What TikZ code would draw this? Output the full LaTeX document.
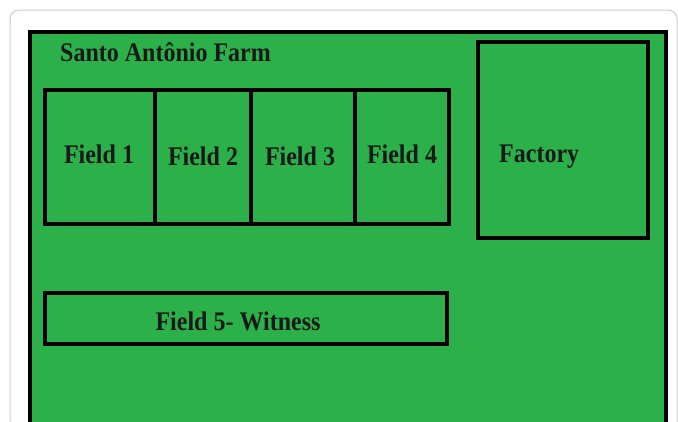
\documentclass[tikz,border=0pt]{standalone}
\usepackage{fontspec}
\setmainfont{Liberation Serif}
\usepackage{graphicx}
\usepackage{tikz}
\usetikzlibrary{positioning}

\definecolor{farmgreen}{RGB}{44,176,74}

\newcommand{\tall}[1]{\scalebox{1}[1.12]{#1}}

\tikzset{
  plot/.style={draw=black,line width=3.3pt,fill=farmgreen,inner sep=0pt},
  lbl/.style={font=\fontsize{24}{27}\selectfont\bfseries,text=black!90,inner sep=0pt}
}

\begin{document}
\begin{tikzpicture}[x=1pt,y=-1pt]
\clip (0,0) rectangle (678,421);
\fill[white] (0,0) rectangle (678,421);

% Card
\draw[gray!40,line width=1pt,rounded corners=9pt] (10,10) rectangle (677,460);

% Farm
\node[plot,line width=3.6pt,minimum width=636,minimum height=420,anchor=north west] (farm) at (28,30) {};
\node[lbl,anchor=west] (title) at (60,52) {\tall{Santo Antônio Farm}};

% Fields 1 to 4
\node[plot,minimum width=110,minimum height=134] (f1) at (100,157) {};
\node[plot,minimum width=96,minimum height=134] (f2) at (203,157) {};
\node[plot,minimum width=104,minimum height=134] (f3) at (303,157) {};
\node[plot,minimum width=94,minimum height=134] (f4) at (402,157) {};
\node[lbl] (l1) at (99,154) {\tall{Field 1}};
\node[lbl] (l2) at (203,156) {\tall{Field 2}};
\node[lbl] (l3) at (300,156) {\tall{Field 3}};
\node[lbl] (l4) at (402,154) {\tall{Field 4}};

% Factory
\node[plot,minimum width=170,minimum height=196] (factory) at (563,140) {};
\node[lbl,anchor=west] (flbl) at (499,157) {\tall{Factory}};

% Field 5
\node[plot,minimum width=402,minimum height=51] (f5) at (246,318.5) {};
\node[lbl] (l5) at (238,321) {\tall{Field 5- Witness}};
\end{tikzpicture}
\end{document}
